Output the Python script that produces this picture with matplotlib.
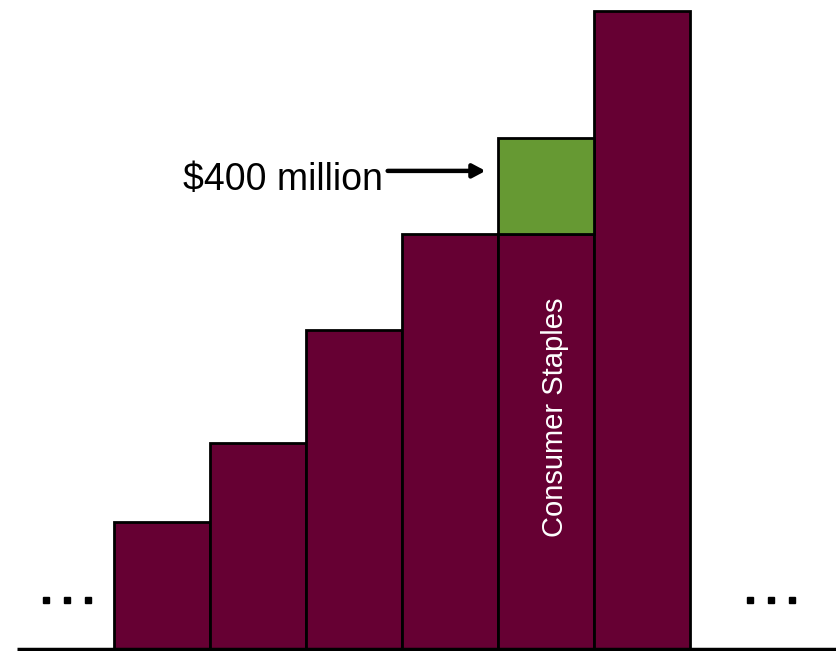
import matplotlib.pyplot as plt

# sector sizes, in millions of dollars
heights = [530, 860, 1330, 1730, 1730, 2660]
extra = [0, 0, 0, 0, 400, 0]
highlight_label = "Consumer Staples"
highlight_idx = 4

maroon = "#660033"
green = "#669933"

plt.rcParams['font.family'] = ['Liberation Sans', 'DejaVu Sans']

fig = plt.figure(figsize=(8.37, 6.51), dpi=100)
ax = fig.add_axes([0, 0, 1, 1])

xs = list(range(len(heights)))
ax.bar(xs, heights, width=1.0, color=maroon, edgecolor="black", linewidth=2, zorder=2)
ax.bar(xs, extra, width=1.0, bottom=heights, color=green, edgecolor="black",
       linewidth=[2 if e else 0 for e in extra], zorder=2)

# baseline
ax.plot([-1.51, 7.1], [0, 0], color="black", linewidth=2.5, zorder=3, solid_capstyle="butt")

# ellipses either side
for x0 in (-1.208, 6.125):
    ax.plot([x0, x0 + 0.219, x0 + 0.438], [204, 204, 204], linestyle="none",
            marker="s", markersize=4.5, color="black")

ax.text(highlight_idx + 0.09, heights[highlight_idx] / 2 + 100, highlight_label, rotation=90,
        color="white", fontsize=21, ha="center", va="center")

# callout for the extra amount
yarrow = heights[highlight_idx] + extra[highlight_idx] / 2 + 62
ax.annotate("", xy=(highlight_idx - 0.63, yarrow), xytext=(highlight_idx - 1.65, yarrow),
            arrowprops=dict(arrowstyle="-|>,head_length=0.75,head_width=0.4",
                            color="black", lw=3.2, shrinkA=0, shrinkB=0))
ax.text(highlight_idx - 1.7, yarrow - 38, f"${extra[highlight_idx]} million", fontsize=27,
        ha="right", va="center")

ax.set_xlim(-1.6875, 7.03)
ax.set_ylim(-8.3, 2704)
ax.axis("off")

fig.savefig("out.png", dpi=100)
